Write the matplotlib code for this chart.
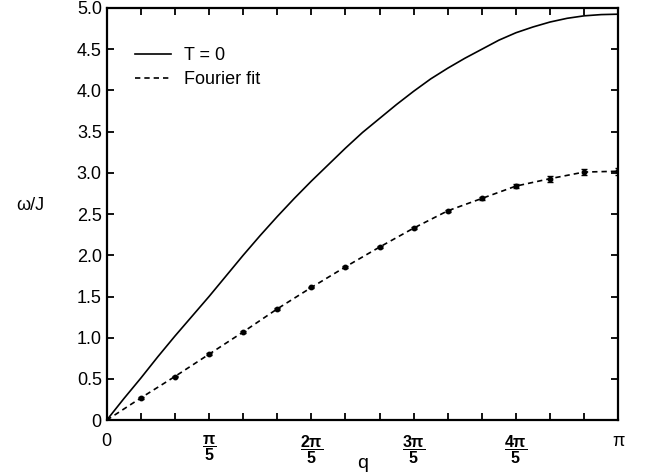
import numpy as np
import matplotlib
matplotlib.use("Agg")
import matplotlib.pyplot as plt

plt.rcParams["font.family"] = ["Liberation Sans", "DejaVu Sans"]
plt.rcParams["mathtext.fontset"] = "custom"
plt.rcParams["mathtext.rm"] = "Liberation Sans"
plt.rcParams["mathtext.it"] = "Liberation Sans"
plt.rcParams["mathtext.bf"] = "Liberation Sans:bold"

# courbe T = 0, q en unités de pi/30
q_t0 = np.arange(0, 31) * np.pi / 30
omega_t0 = [0.0, 0.26, 0.51, 0.77, 1.02, 1.26, 1.50, 1.75, 2.00, 2.24,
            2.47, 2.69, 2.90, 3.10, 3.30, 3.49, 3.66, 3.83, 3.99, 4.14,
            4.27, 4.39, 4.50, 4.61, 4.70, 4.77, 4.83, 4.875, 4.905, 4.92,
            4.925]

# points de simulation + ajustement de Fourier, q en unités de pi/15
q = np.arange(0, 16) * np.pi / 15
omega_fit = [0.0, 0.27, 0.53, 0.80, 1.07, 1.35, 1.61, 1.86, 2.10, 2.33,
             2.54, 2.69, 2.84, 2.93, 3.01, 3.02]
omega_err = [0.0, 0.01, 0.01, 0.01, 0.01, 0.01, 0.01, 0.01, 0.01, 0.015,
             0.015, 0.015, 0.025, 0.035, 0.035, 0.04]

fig = plt.figure(figsize=(6.45, 4.76), dpi=100)
ax = fig.add_axes([0.1654, 0.1172, 0.7932, 0.866])

ax.plot(q_t0, omega_t0, color="black", lw=1.2, label="T = 0")
ax.plot(q, omega_fit, color="black", lw=1.2, ls=(0, (3.2, 2.4)),
        label="Fourier fit")
ax.errorbar(q[1:], omega_fit[1:], yerr=omega_err[1:], fmt="o", color="black",
            ms=3.2, capsize=2, elinewidth=1, capthick=1)

ax.set_xlim(0, np.pi)
ax.set_ylim(0, 5.0)

ax.set_xticks(q, minor=True)
ax.set_xticks([0, np.pi / 5, 2 * np.pi / 5, 3 * np.pi / 5, 4 * np.pi / 5, np.pi])
ax.set_xticklabels(["0", r"$\dfrac{\mathbf{\pi}}{\mathbf{5}}$",
                    r"$\dfrac{\mathbf{2\pi}}{\mathbf{5}}$",
                    r"$\dfrac{\mathbf{3\pi}}{\mathbf{5}}$",
                    r"$\dfrac{\mathbf{4\pi}}{\mathbf{5}}$", "π"])
yt = np.arange(0, 5.01, 0.5)
ax.set_yticks(yt)
ax.set_yticklabels(["0"] + ["%.1f" % v for v in yt[1:]])

ax.tick_params(which="both", direction="in", top=True, right=True,
               length=5, width=1.3, labelsize=13)
ax.tick_params(axis="x", which="major", labelsize=13, pad=9)
for lab in ax.get_xticklabels()[1:5]:
    lab.set_fontsize(11.5)
for s in ax.spines.values():
    s.set_linewidth(1.6)

ax.set_xlabel("q", fontsize=14)
ax.xaxis.set_label_coords(0.5, -0.085)
ax.set_ylabel("ω/J", fontsize=13, rotation=0)
ax.yaxis.set_label_coords(-0.15, 0.5)

ax.legend(loc="upper left", bbox_to_anchor=(0.055, 0.905), frameon=False,
          fontsize=13, handlelength=2.0, handletextpad=0.7, labelspacing=0.4,
          borderpad=0, borderaxespad=0)

plt.savefig("out.png", dpi=100)
plt.close()
